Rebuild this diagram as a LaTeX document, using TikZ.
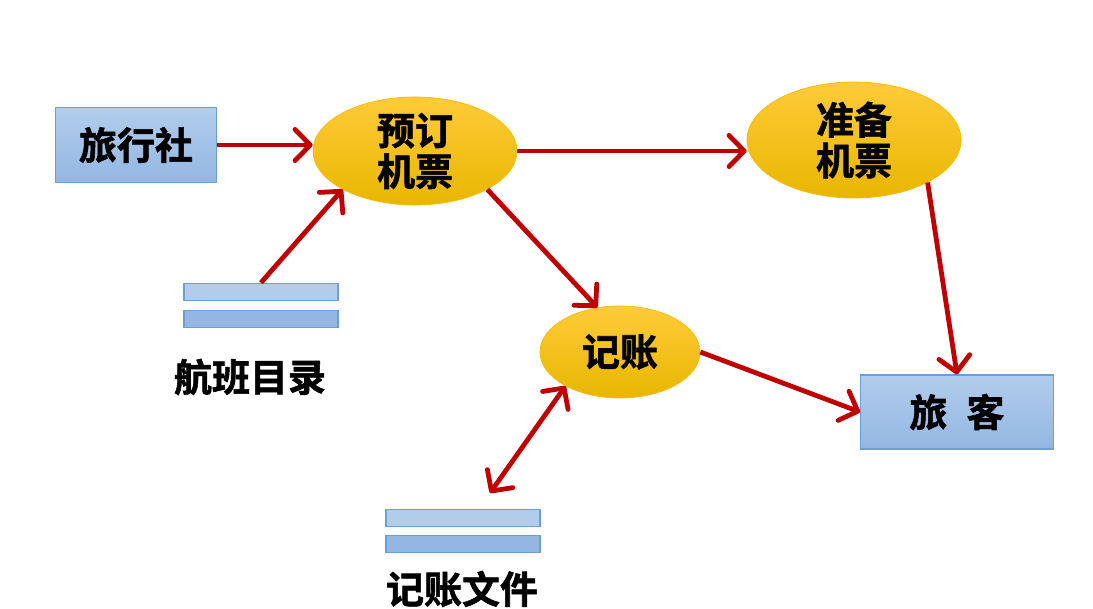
\documentclass[tikz,border=0pt]{standalone}
\usepackage{fontspec}
\newfontfamily\cjk{Noto Sans CJK SC}[BoldFont={* Bold}, BoldFeatures={FakeBold=1.5}]
\usepackage{tikz}
\usetikzlibrary{arrows.meta, positioning, shapes.geometric}

\definecolor{arrred}{HTML}{C00000}
\definecolor{boxtop}{HTML}{B2CDEC}
\definecolor{boxbot}{HTML}{93B6E2}
\definecolor{boxline}{HTML}{6A9FDA}
\definecolor{goldtop}{HTML}{FFCB3A}
\definecolor{goldmid}{HTML}{FFC000}
\definecolor{goldbot}{HTML}{E8B600}

\begin{document}
\begin{tikzpicture}[x=0.025cm, y=-0.025cm, >={Straight Barb[round, length=3.8mm, width=7.8mm]},
    txt/.style={font=\cjk\bfseries\fontsize{27}{29}\selectfont, align=center},
    box/.style={rectangle, draw=boxline, line width=0.8pt, top color=boxtop, bottom color=boxbot, inner sep=0pt, txt},
    proc/.style={ellipse, draw=goldmid!90!orange, line width=0.5pt, top color=goldtop, middle color=goldmid, bottom color=goldbot, inner sep=0pt, txt},
    store/.style={rectangle, draw=boxline, line width=0.8pt, minimum width=3.85cm, minimum height=0.44cm, inner sep=0pt},
    arr/.style={draw=arrred, line width=3.4pt}]
  \useasboundingbox (0,0) rectangle (1093,609);
  % processes
  \node[box, minimum width=4.02cm, minimum height=1.88cm] (lxs) at (136,145) {旅行社};
  \node[proc, minimum width=5.1cm, minimum height=2.7cm] (yd) at (415,151) {预订\\机票};
  \node[proc, minimum width=5.35cm, minimum height=2.9cm] (zb) at (854,140) {准备\\机票};
  \node[proc, minimum width=4.0cm, minimum height=2.3cm] (jz) at (620,352) {记账};
  \node[box, minimum width=4.82cm, minimum height=1.85cm] (lk) at (957,412) {旅\enspace 客};
  % stores
  \node[store, fill=boxtop] (hb1) at (261,292) {};
  \node[store, fill=boxbot] (hb2) at (261,319) {};
  \node[txt] (hbl) at (250,377) {航班目录};
  \node[store, fill=boxtop] (jf1) at (463,518) {};
  \node[store, fill=boxbot] (jf2) at (463,544) {};
  \node[txt] (jfl) at (462,589) {记账文件};
  \coordinate (jfp) at (490,493);
  % flows
  \draw[arr, ->] (lxs.east) -- (lxs.east -| yd.west);
  \draw[arr, ->] (hb1.north) -- (yd.208);
  \draw[arr, ->] (yd.east) -- (zb.west |- yd.east);
  \draw[arr, ->] (yd.332) -- (jz.117);
  \draw[arr, ->] (zb.330) -- (lk.north);
  \draw[arr, ->] (jz.east) -- (lk.west);
  \draw[arr, <->] (jfp) -- (jz.212);
\end{tikzpicture}
\end{document}
